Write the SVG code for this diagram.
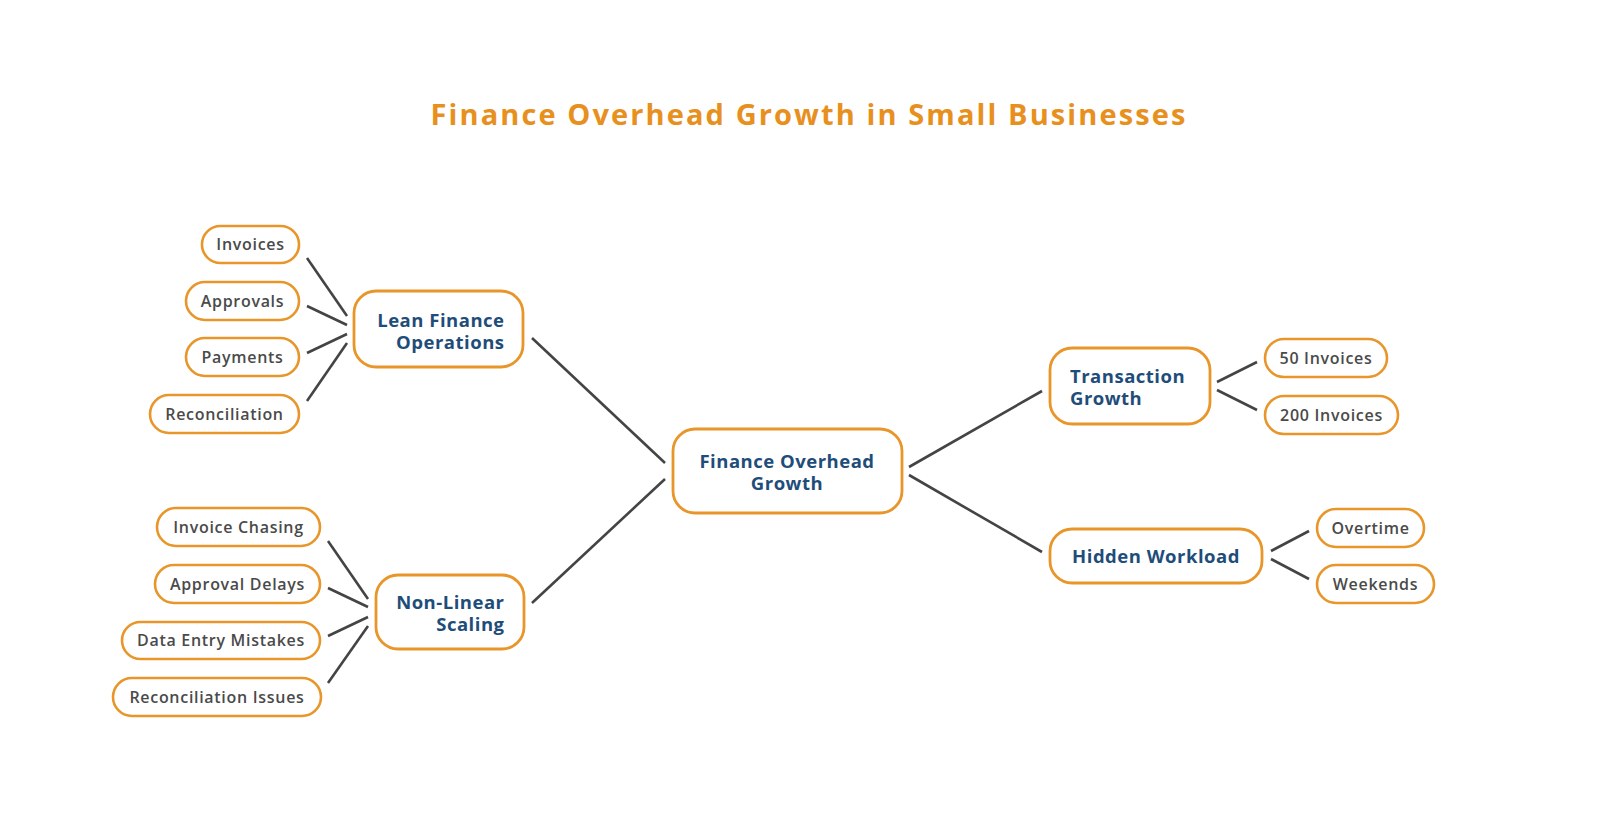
<svg xmlns="http://www.w3.org/2000/svg" width="1600" height="840" viewBox="0 0 1600 840">
<style>
.bg{fill:#ffffff}
.title{font-family:"Open Sans","Liberation Sans",sans-serif;font-weight:700;font-size:29px;letter-spacing:2.1px;fill:#E8901E}
.leaf rect{fill:#ffffff;stroke:#E8962A;stroke-width:2.6}
.main rect{fill:#ffffff;stroke:#E8962A;stroke-width:2.8}
.lt{font-family:"Open Sans","Liberation Sans",sans-serif;font-weight:600;font-size:16px;letter-spacing:0.7px;fill:#4a4a4a;text-anchor:middle}
.mt{font-family:"Open Sans","Liberation Sans",sans-serif;font-weight:700;font-size:18.5px;letter-spacing:0.5px;fill:#1f4d7a}
#connectors line{stroke:#444444;stroke-width:2.6;stroke-linecap:butt}
</style>
<rect class="bg" x="0" y="0" width="1600" height="840"/>
<text class="title" x="809" y="125" text-anchor="middle">Finance Overhead Growth in Small Businesses</text>

<g id="connectors">
<line x1="307" y1="258" x2="347" y2="316"/>
<line x1="307" y1="306" x2="347" y2="325"/>
<line x1="307" y1="353" x2="347" y2="334"/>
<line x1="307" y1="401" x2="347" y2="343"/>
<line x1="328" y1="541" x2="368" y2="599"/>
<line x1="328" y1="588" x2="368" y2="607"/>
<line x1="328" y1="636" x2="368" y2="617"/>
<line x1="328" y1="683" x2="368" y2="626"/>
<line x1="532" y1="338" x2="665" y2="463"/>
<line x1="532" y1="603" x2="665" y2="479"/>
<line x1="909" y1="467" x2="1042" y2="391"/>
<line x1="909" y1="475" x2="1042" y2="552"/>
<line x1="1217" y1="382" x2="1257" y2="362"/>
<line x1="1217" y1="390" x2="1257" y2="410"/>
<line x1="1271" y1="551" x2="1309" y2="531"/>
<line x1="1271" y1="559" x2="1309" y2="579"/>
</g>

<g id="node-center" class="main">
<rect x="673" y="429" width="229" height="84" rx="22"/>
<text class="mt" x="787" y="467.5" text-anchor="middle">Finance Overhead</text>
<text class="mt" x="787" y="489.5" text-anchor="middle">Growth</text>
</g>

<g id="node-lean" class="main">
<rect x="354" y="291" width="169" height="76" rx="22"/>
<text class="mt" x="504.5" y="326.5" text-anchor="end">Lean Finance</text>
<text class="mt" x="504.5" y="348.5" text-anchor="end">Operations</text>
</g>

<g id="node-nonlinear" class="main">
<rect x="376" y="575" width="148" height="74" rx="22"/>
<text class="mt" x="504.5" y="609" text-anchor="end">Non-Linear</text>
<text class="mt" x="504.5" y="631" text-anchor="end">Scaling</text>
</g>

<g id="node-transaction" class="main">
<rect x="1050" y="348" width="160" height="76" rx="22"/>
<text class="mt" x="1070" y="383">Transaction</text>
<text class="mt" x="1070" y="405">Growth</text>
</g>

<g id="node-hidden" class="main">
<rect x="1050" y="529" width="212" height="54" rx="22"/>
<text class="mt" x="1156" y="563" text-anchor="middle">Hidden Workload</text>
</g>

<g id="leaf-invoices" class="leaf">
<rect x="202" y="226" width="97" height="37" rx="18.5"/>
<text class="lt" x="250.5" y="250">Invoices</text>
</g>
<g id="leaf-approvals" class="leaf">
<rect x="186" y="282" width="113" height="38" rx="19"/>
<text class="lt" x="242.5" y="307">Approvals</text>
</g>
<g id="leaf-payments" class="leaf">
<rect x="186" y="338" width="113" height="38" rx="19"/>
<text class="lt" x="242.5" y="363">Payments</text>
</g>
<g id="leaf-reconciliation" class="leaf">
<rect x="150" y="395" width="149" height="38" rx="19"/>
<text class="lt" x="224.5" y="420">Reconciliation</text>
</g>

<g id="leaf-invoice-chasing" class="leaf">
<rect x="157" y="508" width="163" height="38" rx="19"/>
<text class="lt" x="238.5" y="533">Invoice Chasing</text>
</g>
<g id="leaf-approval-delays" class="leaf">
<rect x="155" y="565" width="165" height="38" rx="19"/>
<text class="lt" x="237.5" y="590">Approval Delays</text>
</g>
<g id="leaf-data-entry" class="leaf">
<rect x="122" y="622" width="198" height="37" rx="18.5"/>
<text class="lt" x="221" y="646">Data Entry Mistakes</text>
</g>
<g id="leaf-reconciliation-issues" class="leaf">
<rect x="113" y="678" width="208" height="38" rx="19"/>
<text class="lt" x="217" y="703">Reconciliation Issues</text>
</g>

<g id="leaf-50-invoices" class="leaf">
<rect x="1265" y="339" width="122" height="38" rx="19"/>
<text class="lt" x="1326" y="364">50 Invoices</text>
</g>
<g id="leaf-200-invoices" class="leaf">
<rect x="1265" y="396" width="133" height="38" rx="19"/>
<text class="lt" x="1331.5" y="421">200 Invoices</text>
</g>
<g id="leaf-overtime" class="leaf">
<rect x="1317" y="509" width="107" height="38" rx="19"/>
<text class="lt" x="1370.5" y="534">Overtime</text>
</g>
<g id="leaf-weekends" class="leaf">
<rect x="1317" y="565" width="117" height="38" rx="19"/>
<text class="lt" x="1375.5" y="590">Weekends</text>
</g>
</svg>
